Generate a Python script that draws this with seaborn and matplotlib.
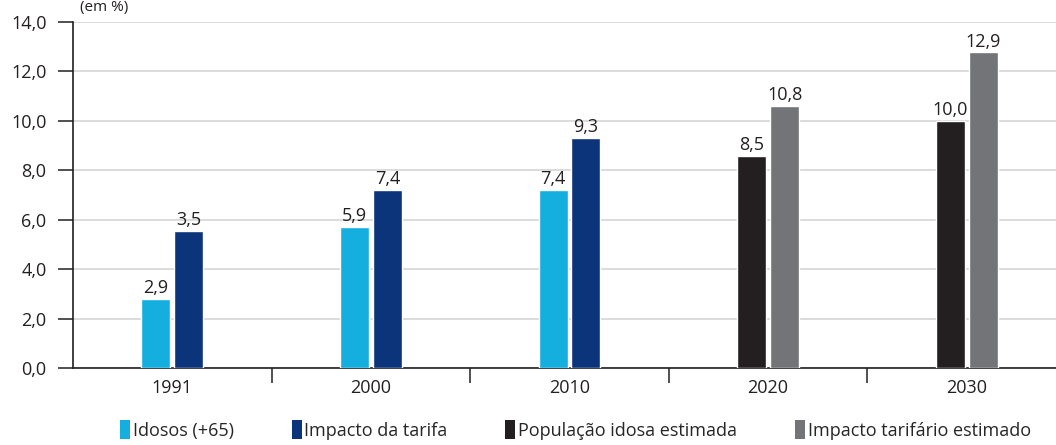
import numpy as np
import pandas as pd
import seaborn as sns
import matplotlib.pyplot as plt
from matplotlib.patches import Patch
from matplotlib.ticker import FixedLocator

# data
years = ["1991", "2000", "2010", "2020", "2030"]
first_vals = [2.80, 5.72, 7.21, 8.59, 10.01]
second_vals = [5.55, 7.22, 9.32, 10.62, 12.77]
first_labels = ["2,9", "5,9", "7,4", "8,5", "10,0"]
second_labels = ["3,5", "7,4", "9,3", "10,8", "12,9"]
series_names = ["Idosos (+65)", "Impacto da tarifa",
                "População idosa estimada", "Impacto tarifário estimado"]
yticks = [0, 2, 4, 6, 8, 10, 12, 14]

LIGHT = "#14AFDE"
NAVY = "#0B347A"
BLACK = "#231F20"
GREY = "#737478"
first_colors = [LIGHT, LIGHT, LIGHT, BLACK, BLACK]
second_colors = [NAVY, NAVY, NAVY, GREY, GREY]

sns.set_theme(style="white")
plt.rcParams['font.family'] = ['Open Sans', 'DejaVu Sans']

df = pd.DataFrame({
    "year": years * 2,
    "slot": ["a"] * len(years) + ["b"] * len(years),
    "value": first_vals + second_vals,
})

fig = plt.figure(figsize=(10.56, 4.45), dpi=100)
ax = fig.add_axes([73 / 1056, 77 / 445, 993 / 1056, 346 / 445])

sns.barplot(data=df, x="year", y="value", hue="slot", width=0.332, gap=0.12,
            palette=[LIGHT, NAVY], legend=False, ax=ax, zorder=3)

for bar, c in zip(ax.containers[0], first_colors):
    bar.set_facecolor(c)
for bar, c in zip(ax.containers[1], second_colors):
    bar.set_facecolor(c)

ax.bar_label(ax.containers[0], labels=first_labels, padding=1, fontsize=13, color="#231F20")
ax.bar_label(ax.containers[1], labels=second_labels, padding=1, fontsize=13, color="#231F20")

ax.set_xlim(-0.5, 4.5)
ax.set_ylim(0, 14)
ax.set_yticks(yticks)
ax.set_yticklabels([f"{v:.1f}".replace(".", ",") for v in yticks])
ax.yaxis.grid(True, color="#D9D9D9", linewidth=1.3)
ax.set_axisbelow(True)
ax.set_xlabel("")
ax.set_ylabel("")

for s in ["top", "right"]:
    ax.spines[s].set_visible(False)
for s in ["left", "bottom"]:
    ax.spines[s].set_color("#231F20")
    ax.spines[s].set_linewidth(1.2)

ax.tick_params(axis="y", length=11, width=1.1, color="#231F20", pad=8,
               labelsize=13, labelcolor="#231F20", left=True)
ax.tick_params(axis="x", which="major", length=0, pad=8, labelsize=13,
               labelcolor="#231F20")
ax.xaxis.set_minor_locator(FixedLocator([0.5, 1.5, 2.5, 3.5]))
ax.tick_params(axis="x", which="minor", length=11, width=1.1, color="#231F20",
               bottom=True)

fig.text(80 / 1056, 1.0, "(em %)", ha="left", va="top",
         fontsize=11, color="#231F20")

handles = [Patch(facecolor=c, edgecolor="none") for c in [LIGHT, NAVY, BLACK, GREY]]
fig.legend(handles, series_names, loc="center", bbox_to_anchor=(0.545, 0.034),
           ncol=4, frameon=False, handlelength=0.55, handleheight=1.2,
           handletextpad=0.15, columnspacing=3.2,
           prop={"size": 13})

fig.savefig("out.png", dpi=100, facecolor="white")
